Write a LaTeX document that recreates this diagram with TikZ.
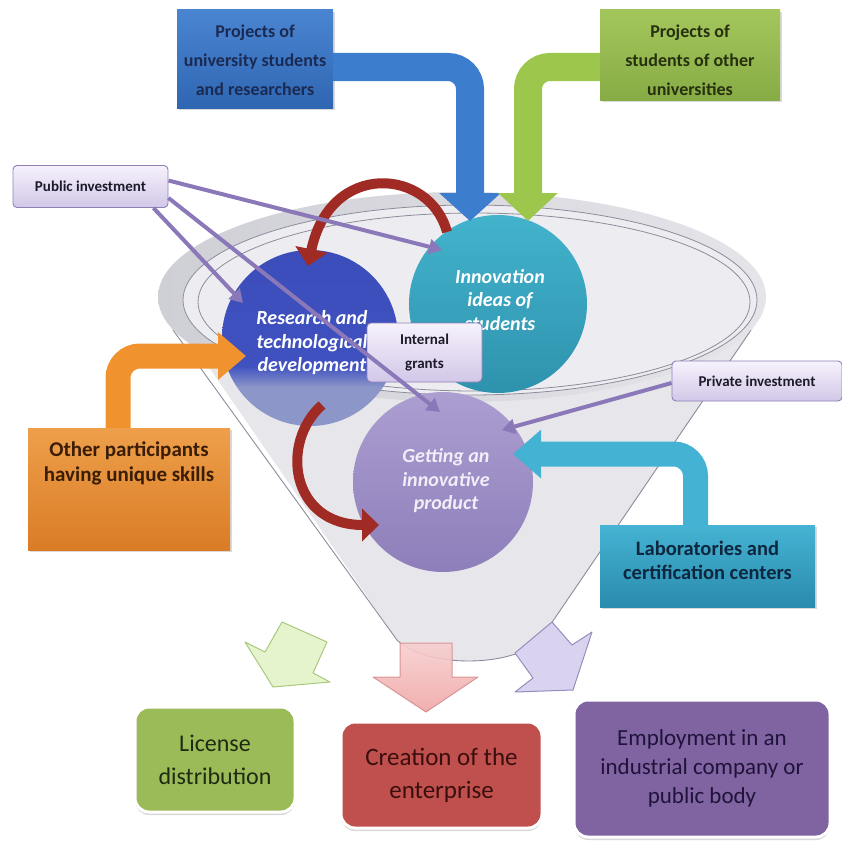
\documentclass[tikz,border=0pt]{standalone}
\usepackage{fontspec}
\setmainfont{Carlito}
\usetikzlibrary{arrows.meta,shadows,calc}

% palette
\definecolor{navytext}{HTML}{1B2A52}
\definecolor{projblueT}{HTML}{4A85D1}
\definecolor{projblueB}{HTML}{2F66B2}
\definecolor{bandblue}{HTML}{3C7DCE}
\definecolor{projgreenT}{HTML}{A3C65C}
\definecolor{projgreenB}{HTML}{88AC45}
\definecolor{bandgreen}{HTML}{9CC64C}
\definecolor{greentext}{HTML}{26300F}
\definecolor{orangeT}{HTML}{EE9F4A}
\definecolor{orangeB}{HTML}{DA7C26}
\definecolor{bandorange}{HTML}{F0932E}
\definecolor{orangetext}{HTML}{3A1D06}
\definecolor{tealT}{HTML}{45B3D3}
\definecolor{tealB}{HTML}{2A8BAD}
\definecolor{bandteal}{HTML}{43B2D3}
\definecolor{tealtext}{HTML}{0E2740}
\definecolor{tagT}{HTML}{F6F2FC}
\definecolor{tagB}{HTML}{D2C7E8}
\definecolor{tagedge}{HTML}{8E80B4}
\definecolor{tagtext}{HTML}{1E1A2A}
\definecolor{feedcol}{HTML}{8B78B8}
\definecolor{loopred}{HTML}{A02A24}
\definecolor{funnelbody}{HTML}{E7E7EB}
\definecolor{funnelline}{HTML}{8C8C9C}
\definecolor{rimouterL}{HTML}{CFCFD6}
\definecolor{rimouterR}{HTML}{E4E4E9}
\definecolor{riminner}{HTML}{EDEDF1}
\definecolor{inoT}{HTML}{43B3CC}
\definecolor{inoB}{HTML}{2E92AD}
\definecolor{prodT}{HTML}{AC9ED1}
\definecolor{prodB}{HTML}{8E7EBA}
\definecolor{prodtext}{HTML}{F1EEF8}
\definecolor{licfill}{HTML}{9BBB59}
\definecolor{lictext}{HTML}{1F2A10}
\definecolor{crefill}{HTML}{C0504D}
\definecolor{cretext}{HTML}{3A0F0E}
\definecolor{empfill}{HTML}{8064A2}
\definecolor{emptext}{HTML}{20133A}
\definecolor{licarrowfill}{HTML}{E6F4CE}
\definecolor{licarrowline}{HTML}{A9C97C}
\definecolor{crearrowT}{HTML}{F7CFCF}
\definecolor{crearrowB}{HTML}{F0A6A6}
\definecolor{crearrowline}{HTML}{D48E8E}
\definecolor{emparrowfill}{HTML}{DAD3F0}
\definecolor{emparrowline}{HTML}{978CBE}

% research disc: deep blue with a pale lower band
\pgfdeclareverticalshading{rtdshade}{100bp}{rgb(0bp)=(0.55,0.59,0.79); rgb(36bp)=(0.55,0.59,0.79); rgb(42bp)=(0.25,0.32,0.75); rgb(100bp)=(0.22,0.29,0.72)}

\begin{document}
\begin{tikzpicture}[x=1pt,y=-1pt,
  srcbox/.style={rectangle, inner sep=0pt, align=center,
    drop shadow={shadow xshift=2pt, shadow yshift=-2pt, opacity=0.3}},
  srctext/.style={font=\bfseries\fontsize{18}{29}\selectfont, align=center},
  tag/.style={rectangle, rounded corners=4pt, draw=tagedge, line width=0.9pt,
    top color=tagT, bottom color=tagB, text=tagtext, inner sep=0pt,
    font=\bfseries\fontsize{15}{24}\selectfont, align=center},
  band/.style={rounded corners=22pt},
  feed/.style={draw=feedcol, line width=4pt, -{Triangle[length=13pt,width=15pt]}},
  redloop/.style={draw=loopred, line width=10pt, -{Triangle[length=17pt,width=32pt]}},
  orb/.style={circle, inner sep=0pt},
  orbtext/.style={align=center, text=white, font=\bfseries\itshape\fontsize{20}{23.5}\selectfont},
  outcome/.style={rectangle, rounded corners=14pt, draw=white, line width=3pt, align=center,
    drop shadow={shadow xshift=0pt, shadow yshift=-3pt, opacity=0.3}},
  outarrow/.style={line width=1pt, line join=round}
]
\useasboundingbox (0,0) rectangle (842,843);

% ---------- funnel ----------
\fill[funnelbody] (175,318) -- (397,640) .. controls (425,668) and (512,668) .. (540,640) -- (760,318) -- cycle;
\draw[funnelline, line width=0.9pt] (173,330) -- (397,640) .. controls (425,668) and (512,668) .. (540,640) -- (751,330);
\shade[left color=rimouterL, right color=rimouterR] (462,297) ellipse [x radius=304, y radius=105];
\draw[funnelline, line width=0.8pt, fill=riminner] (470,300) ellipse [x radius=287, y radius=95];
\draw[funnelline, line width=0.8pt] (474,302) ellipse [x radius=276, y radius=89];

% ---------- stages ----------
\node[orb, minimum size=176pt, shade, shading=rtdshade] (rtd) at (310,338) {};
\node[orb, minimum size=178pt, top color=inoT, bottom color=inoB] (ino) at (498,304) {};
\node[orb, minimum size=180pt, top color=prodT, bottom color=prodB] (prod) at (443,482) {};
\node[orbtext] (rtdtxt) at (312,343) {Research and\\technological\\development};
\node[orbtext] (inotxt) at (500,300) {Innovation\\ideas of\\students};
\node[orbtext, text=prodtext] (prodtxt) at (446,481) {Getting an\\innovative\\product};

% ---------- feedback loops ----------
\coordinate (loopAstart) at (447,232);
\coordinate (loopAend) at (308,266);
\draw[redloop] (loopAstart) .. controls (430,168) and (330,160) .. (loopAend);
\coordinate (loopBstart) at (322,405);
\coordinate (loopBend) at (379,525);
\draw[redloop] (loopBstart) .. controls (280,442) and (290,525) .. (loopBend);

% ---------- sources ----------
\node[srcbox, minimum width=156pt, minimum height=98pt, top color=projblueT, bottom color=projblueB] (proj1) at (255,59) {};
\node[srcbox, minimum width=180pt, minimum height=90pt, top color=projgreenT, bottom color=projgreenB] (proj2) at (690,55) {};
\node[srcbox, minimum width=202pt, minimum height=122pt, top color=orangeT, bottom color=orangeB] (other) at (129,489) {};
\node[srcbox, minimum width=215pt, minimum height=82pt, top color=tealT, bottom color=tealB] (lab) at (707.5,566) {};

\coordinate (tipblue) at (470,221);
\coordinate (tipgreen) at (528,221);
\coordinate (tiporange) at (246,356);
\coordinate (tipteal) at (513,454);
\draw[band, bandblue, line width=28pt, -{Triangle[length=28pt,width=60pt]}] ([yshift=-8pt]proj1.east) -| (tipblue);
\draw[band, bandgreen, line width=28pt, -{Triangle[length=28pt,width=58pt]}] ([yshift=-12pt]proj2.west) -| (tipgreen);
\draw[band, bandorange, line width=25pt, -{Triangle[length=28pt,width=46pt]}] ([xshift=-11pt]other.north) |- (tiporange);
\draw[band, bandteal, line width=25pt, -{Triangle[length=28pt,width=47pt]}] ([xshift=-12pt]lab.north) |- (tipteal);

\node[srctext, text=navytext] (proj1txt) at (255,60) {Projects of\\university students\\and researchers};
\node[srctext, text=greentext] (proj2txt) at (690,60) {Projects of\\students of other\\universities};
\node[font=\bfseries\fontsize{21}{25}\selectfont, align=center, text=orangetext] (othertxt) at (129,463) {Other participants\\having unique skills};
\node[font=\bfseries\fontsize{20.5}{24}\selectfont, align=center, text=tealtext] (labtxt) at (707.5,560) {Laboratories and\\certification centers};

% ---------- funding ----------
\node[tag, minimum width=155pt, minimum height=42pt] (pub) at (90.5,186.5) {Public investment};
\node[tag, minimum width=170pt, minimum height=40pt] (priv) at (757,381) {Private investment};
\node[tag, minimum width=115pt, minimum height=59pt] (grant) at (424.5,352.5) {Internal\\grants};

\coordinate (tipA) at (442,250);
\coordinate (tipB) at (243,303);
\coordinate (tipC) at (440,412);
\coordinate (tipD) at (502,430);
\draw[feed] ([yshift=6pt]pub.east) -- (tipA);
\draw[feed] ([yshift=10pt]pub.south east) -- (tipC);
\draw[feed] ([xshift=-15pt]pub.south east) -- (tipB);
\draw[feed] ([yshift=-2pt]priv.west) -- (tipD);

% ---------- outcomes ----------
\draw[outarrow, draw=licarrowline, fill=licarrowfill] (282,622) -- (327,642) -- (313,673) -- (330,682) -- (273,687) -- (245,642) -- (265,652) -- cycle;
\draw[outarrow, draw=crearrowline, top color=crearrowT, bottom color=crearrowB, opacity=0.9] (400,643) -- (452,643) -- (452,677) -- (478,677) -- (426,712) -- (373,677) -- (400,677) -- cycle;
\draw[outarrow, draw=emparrowline, fill=emparrowfill] (515,653) -- (552,622) -- (572,645) -- (592,632) -- (573,690) -- (515,692) -- (533,678) -- cycle;

\node[outcome, fill=licfill, text=lictext, minimum width=160pt, minimum height=105pt, font=\fontsize{24}{33}\selectfont] (lic) at (215,759.5) {License\\distribution};
\node[outcome, fill=crefill, text=cretext, minimum width=201pt, minimum height=106pt, font=\fontsize{25}{33}\selectfont] (cre) at (441.5,775) {Creation of the\\enterprise};
\node[outcome, fill=empfill, text=emptext, minimum width=256pt, minimum height=137pt, font=\fontsize{23}{29}\selectfont] (emp) at (702,768.5) {Employment in an\\industrial company or\\public body};
\end{tikzpicture}
\end{document}
